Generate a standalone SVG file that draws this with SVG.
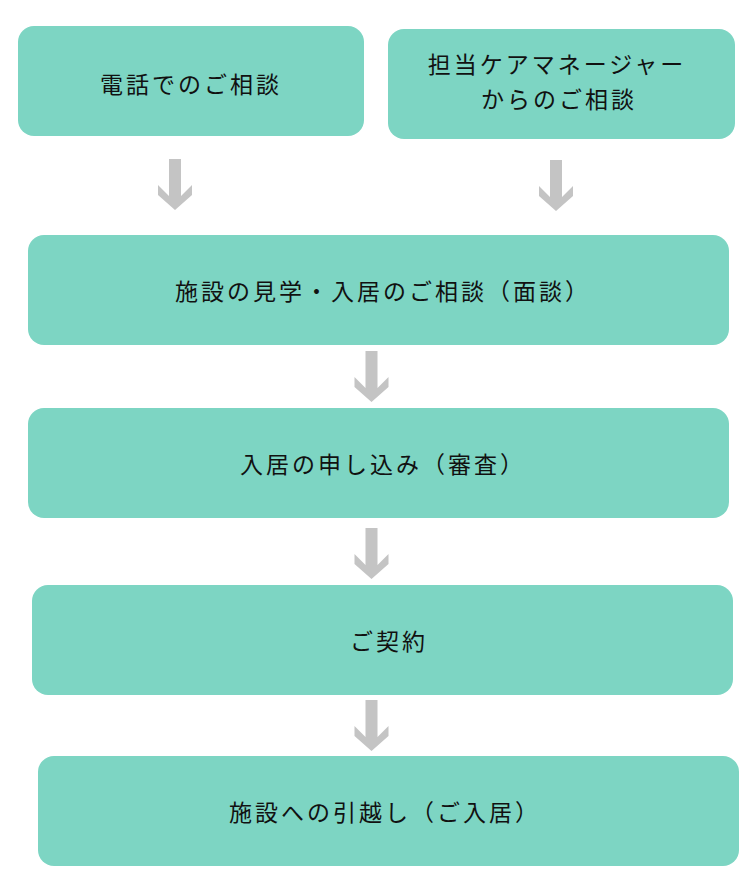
<svg xmlns="http://www.w3.org/2000/svg" width="750" height="872" viewBox="0 0 750 872">
<style>
.box{fill:#7dd5c3}
.lbl{font-family:"Noto Sans CJK JP","Noto Sans",sans-serif;font-size:23px;letter-spacing:3px;fill:#111;text-anchor:middle}
.arr{fill:#c4c4c4}
</style>
<defs>
<path id="arrow" d="M-6,0 H6 V37 L17,26 V36 L0,51 L-17,36 V26 L-6,37 Z"/>
</defs>
<rect width="750" height="872" fill="#ffffff"/>
<g id="connectors" class="arr">
<use href="#arrow" transform="translate(175,159)"/>
<use href="#arrow" transform="translate(556,160)"/>
<use href="#arrow" transform="translate(371.5,351)"/>
<use href="#arrow" transform="translate(371.5,528)"/>
<use href="#arrow" transform="translate(371.5,700)"/>
</g>
<g id="node-phone">
<rect class="box" x="18" y="26" width="346" height="110" rx="16"/>
<text class="lbl" x="191" y="92.5">電話でのご相談</text>
</g>
<g id="node-caremanager">
<rect class="box" x="388" y="29" width="347" height="110" rx="16"/>
<text class="lbl" x="557" y="72.5">担当ケアマネージャー</text>
<text class="lbl" x="559" y="107.5">からのご相談</text>
</g>
<g id="node-visit">
<rect class="box" x="28" y="235" width="701" height="110" rx="16"/>
<text class="lbl" x="383" y="299.5">施設の見学・入居のご相談（面談）</text>
</g>
<g id="node-apply">
<rect class="box" x="28" y="408" width="701" height="110" rx="16"/>
<text class="lbl" x="383" y="472.5">入居の申し込み（審査）</text>
</g>
<g id="node-contract">
<rect class="box" x="32" y="585" width="701" height="110" rx="16"/>
<text class="lbl" x="389" y="649.5">ご契約</text>
</g>
<g id="node-move">
<rect class="box" x="38" y="756" width="701" height="110" rx="16"/>
<text class="lbl" x="385" y="820.5">施設への引越し（ご入居）</text>
</g>
</svg>
